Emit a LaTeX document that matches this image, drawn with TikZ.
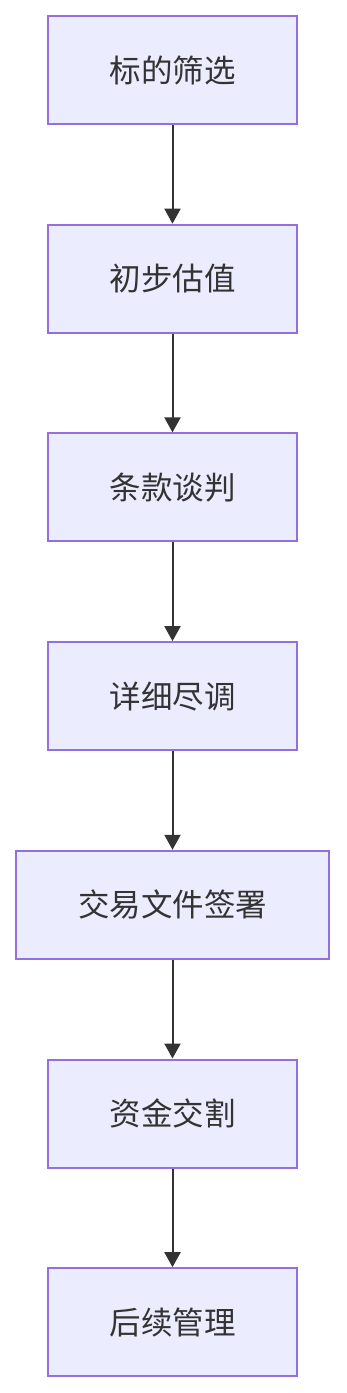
\documentclass[tikz,border=0pt]{standalone}
\usepackage{fontspec}
\setmainfont{Noto Sans CJK SC}
\usepackage{xcolor}
\usetikzlibrary{arrows.meta,positioning}
\definecolor{StageFill}{HTML}{ECECFF}
\definecolor{StageLine}{HTML}{9370DB}
\definecolor{InkDark}{HTML}{333333}
\tikzset{
  stagebox/.style={draw=StageLine, fill=StageFill, line width=2pt, align=center, minimum width=249pt, minimum height=108pt, text=InkDark, font=\fontsize{31.5pt}{36pt}\selectfont},
  widebox/.style={stagebox, minimum width=313pt},
  flow/.style={-{Triangle[length=15pt,width=16pt]}, line width=2pt, draw=InkDark}
}

\begin{document}
\begin{tikzpicture}[x=1pt, y=-1pt, node distance=98.7pt]
    \useasboundingbox (0,0) rectangle (346,1393);
    \node[stagebox] (screen) at (172.5,70) {标的筛选};
    \node[stagebox, below=of screen] (value) {初步估值};
    \node[stagebox, below=of value] (terms) {条款谈判};
    \node[stagebox, below=of terms] (diligence) {详细尽调};
    \node[widebox, below=of diligence] (signing) {交易文件签署};
    \node[stagebox, below=of signing] (closing) {资金交割};
    \node[stagebox, below=of closing] (post) {后续管理};

    \draw[flow] (screen) -- (value);
    \draw[flow] (value) -- (terms);
    \draw[flow] (terms) -- (diligence);
    \draw[flow] (diligence) -- (signing);
    \draw[flow] (signing) -- (closing);
    \draw[flow] (closing) -- (post);
  \end{tikzpicture}
\end{document}
